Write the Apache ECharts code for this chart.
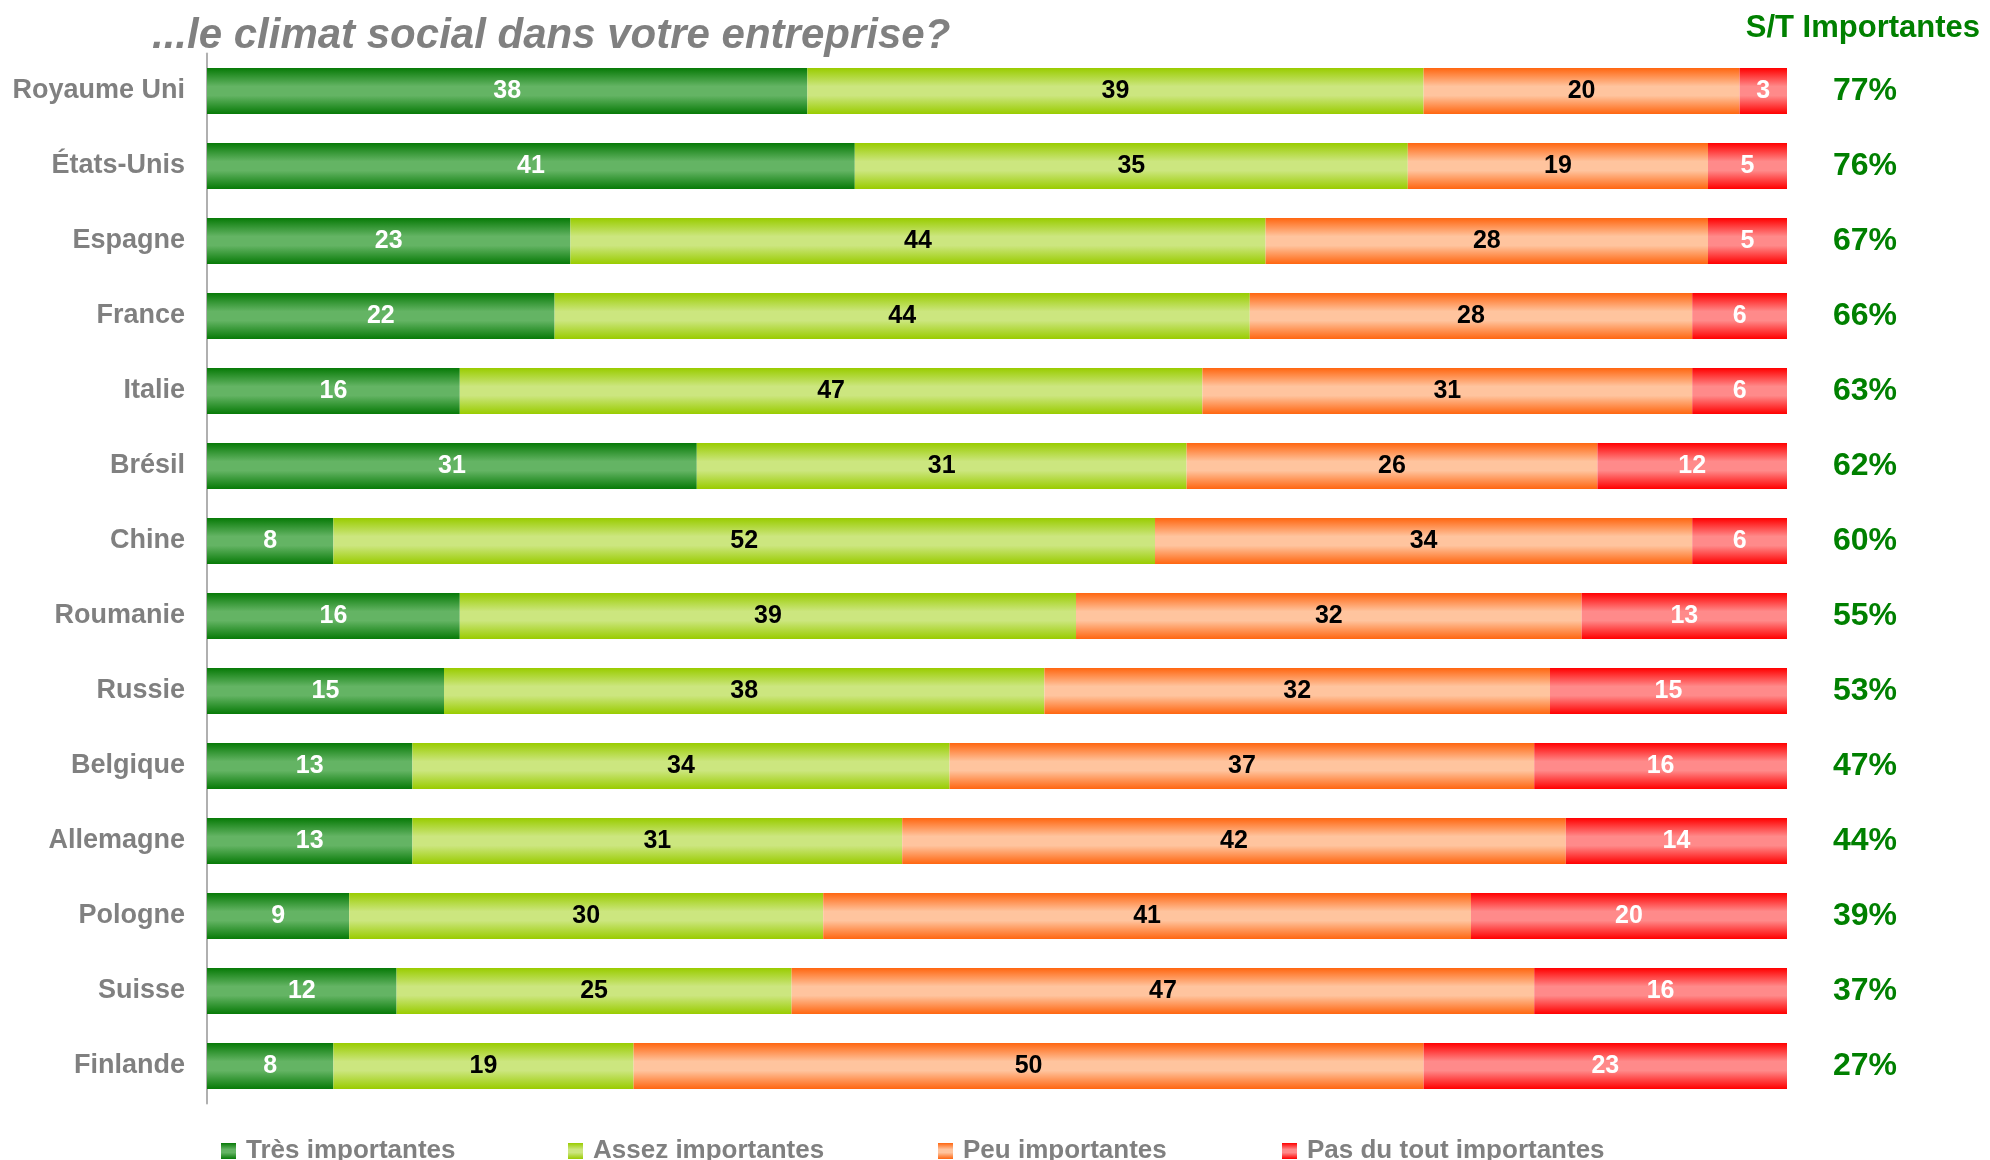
<!DOCTYPE html>
<html>
<head>
<meta charset="utf-8">
<script src="https://cdn.jsdelivr.net/npm/echarts@6/dist/echarts.min.js"></script>
<style>
  html, body { margin: 0; padding: 0; background: #fff; }
  #chart { width: 1990px; height: 1160px; }
</style>
</head>
<body>
<div id="chart"></div>
<script>
const countries = ['Royaume Uni', 'États-Unis', 'Espagne', 'France', 'Italie', 'Brésil', 'Chine',
  'Roumanie', 'Russie', 'Belgique', 'Allemagne', 'Pologne', 'Suisse', 'Finlande']
const tresImportantes = [38, 41, 23, 22, 16, 31, 8, 16, 15, 13, 13, 9, 12, 8]
const assezImportantes = [39, 35, 44, 44, 47, 31, 52, 39, 38, 34, 31, 30, 25, 19]
const peuImportantes = [20, 19, 28, 28, 31, 26, 34, 32, 32, 37, 42, 41, 47, 50]
const pasImportantes = [3, 5, 5, 6, 6, 12, 6, 13, 15, 16, 14, 20, 16, 23]
const stImportantes = ['77%', '76%', '67%', '66%', '63%', '62%', '60%', '55%', '53%', '47%', '44%', '39%', '37%', '27%']

const FONT = "'Liberation Sans', Arial, sans-serif"

// vertical gradient: dark edges, light middle
const grad = (edge, mid) => new echarts.graphic.LinearGradient(0, 0, 0, 1, [
  { offset: 0, color: edge },
  { offset: 0.4, color: mid },
  { offset: 0.6, color: mid },
  { offset: 1, color: edge }
])

const seriesDefs = [
  { name: 'Très importantes', data: tresImportantes, color: grad('#077a07', '#64b464'), label: '#ffffff' },
  { name: 'Assez importantes', data: assezImportantes, color: grad('#99cc00', '#cce67f'), label: '#000000' },
  { name: 'Peu importantes', data: peuImportantes, color: grad('#ff6610', '#ffc49e'), label: '#000000' },
  { name: 'Pas du tout importantes', data: pasImportantes, color: grad('#ff0000', '#ff8a8a'), label: '#ffffff' }
]
const legendLeft = [216, 563, 933, 1277]

const chart = echarts.init(document.getElementById('chart'))

const option = {
  backgroundColor: '#ffffff',
  animation: false,
  title: [
    {
      text: '...le climat social dans votre entreprise?',
      left: 147,
      top: 10,
      textStyle: { color: '#808080', fontSize: 42, fontWeight: 'bold', fontStyle: 'italic', fontFamily: FONT }
    },
    {
      text: 'S/T Importantes',
      right: 5,
      top: 8,
      textStyle: { color: '#008000', fontSize: 31, fontWeight: 'bold', fontFamily: FONT }
    }
  ],
  legend: seriesDefs.map((s, i) => ({
    data: [s.name],
    left: legendLeft[i],
    top: 1133,
    icon: 'rect',
    itemWidth: 15,
    itemHeight: 16,
    selectedMode: false,
    textStyle: { color: '#808080', fontSize: 26, fontWeight: 'bold', fontFamily: FONT, padding: [0, 0, 0, 5] }
  })),
  grid: { left: 207, right: 203, top: 53.5, bottom: 56.5, containLabel: false },
  xAxis: { type: 'value', min: 0, max: 100, show: false },
  yAxis: [
    {
      type: 'category',
      data: countries,
      inverse: true,
      axisLine: { lineStyle: { color: '#b0b0b0', width: 2 } },
      axisTick: { length: 8, lineStyle: { color: '#b0b0b0', width: 2 } },
      axisLabel: { color: '#808080', fontSize: 27, fontWeight: 'bold', fontFamily: FONT, margin: 22 }
    },
    {
      type: 'category',
      data: stImportantes,
      inverse: true,
      position: 'right',
      axisLine: { show: false },
      axisTick: { show: false },
      axisLabel: { color: '#008000', fontSize: 32, fontWeight: 'bold', fontFamily: FONT, margin: 78, align: 'center' }
    }
  ],
  series: seriesDefs.map((s) => ({
    name: s.name,
    type: 'bar',
    stack: 'total',
    barWidth: 46,
    data: s.data,
    itemStyle: { color: s.color },
    label: {
      show: true,
      position: 'inside',
      color: s.label,
      fontSize: 25,
      fontWeight: 'bold',
      fontFamily: FONT
    }
  }))
}

chart.setOption(option)
</script>
</body>
</html>
